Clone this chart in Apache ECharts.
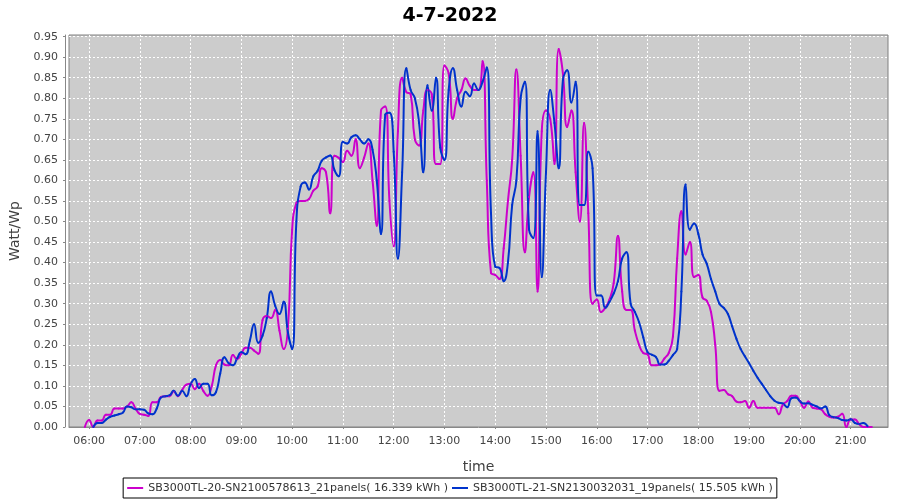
<!DOCTYPE html>
<html><head><meta charset="utf-8">
<script src="https://cdn.jsdelivr.net/npm/echarts@6/dist/echarts.min.js"></script>
<style>html,body{margin:0;padding:0;background:#fff}#c{width:900px;height:500px}</style>
</head><body><div id="c"></div>
<script>
const chartTitle = "4-7-2022";
const xName = "time";
const yName = "Watt/Wp";
const seriesNames = [
  "SB3000TL-20-SN2100578613_21panels( 16.339 kWh )",
  "SB3000TL-21-SN2130032031_19panels( 15.505 kWh )"
];
const seriesColors = ["#cc00cc", "#0033cc"];
// samples every 5 minutes starting at 05:55
const startTime = "05:55";
const stepMinutes = 5;
const magentaValues = [
 0.000,0.017,0.000,0.016,0.016,0.030,0.030,0.045,0.045,0.045,0.050,0.060,0.045,
 0.032,0.030,0.027,0.060,0.060,0.073,0.075,0.075,0.087,0.075,0.090,0.103,
 0.105,0.092,0.105,0.088,0.076,0.100,0.150,0.163,0.152,0.150,0.175,0.165,
 0.178,0.193,0.193,0.186,0.178,0.260,0.270,0.265,0.285,0.235,0.190,0.240,
 0.480,0.545,0.550,0.550,0.555,0.575,0.585,0.630,0.620,0.520,0.660,0.655,
 0.645,0.672,0.660,0.700,0.630,0.655,0.690,0.600,0.490,0.770,0.780,0.550,
 0.440,0.720,0.850,0.815,0.810,0.700,0.685,0.770,0.820,0.810,0.640,0.640,
 0.880,0.860,0.750,0.800,0.820,0.848,0.830,0.820,0.820,0.890,0.600,0.375,
 0.370,0.360,0.435,0.550,0.650,0.870,0.660,0.425,0.560,0.620,0.330,0.720,
 0.770,0.750,0.640,0.920,0.860,0.730,0.770,0.620,0.500,0.740,0.520,0.300,
 0.310,0.280,0.290,0.310,0.350,0.465,0.330,0.285,0.285,0.235,0.200,0.180,
 0.177,0.150,0.150,0.153,0.167,0.180,0.220,0.410,0.525,0.420,0.450,0.365,
 0.370,0.315,0.307,0.280,0.200,0.088,0.090,0.080,0.075,0.062,0.060,0.063,
 0.047,0.063,0.047,0.047,0.047,0.047,0.047,0.031,0.055,0.063,0.076,0.076,
 0.063,0.047,0.062,0.047,0.045,0.043,0.031,0.025,0.023,0.025,0.032,0.000,
 0.018,0.018,0.007,0.000,0.000,0.000
];
const blueValues = [
 null,null,0.000,0.010,0.010,0.018,0.025,0.028,0.031,0.035,0.050,0.048,0.043,
 0.043,0.042,0.033,0.031,0.045,0.072,0.075,0.077,0.088,0.076,0.088,0.075,
 0.104,0.117,0.095,0.105,0.105,0.077,0.085,0.130,0.170,0.155,0.150,0.167,
 0.182,0.177,0.210,0.250,0.205,0.222,0.265,0.330,0.295,0.275,0.305,0.230,
 0.190,0.500,0.585,0.595,0.578,0.610,0.623,0.648,0.656,0.661,0.625,0.610,
 0.694,0.690,0.705,0.710,0.700,0.690,0.700,0.675,0.600,0.470,0.760,0.765,
 0.670,0.410,0.620,0.873,0.820,0.800,0.740,0.620,0.832,0.770,0.850,0.680,
 0.650,0.820,0.873,0.820,0.780,0.816,0.805,0.836,0.820,0.840,0.875,0.520,
 0.390,0.387,0.355,0.400,0.540,0.600,0.800,0.840,0.480,0.460,0.720,0.365,
 0.620,0.820,0.740,0.630,0.845,0.868,0.790,0.840,0.540,0.540,0.670,0.630,
 0.320,0.320,0.290,0.305,0.325,0.355,0.410,0.425,0.300,0.280,0.255,0.218,
 0.182,0.176,0.170,0.152,0.152,0.161,0.175,0.190,0.330,0.590,0.480,0.495,
 0.470,0.420,0.397,0.360,0.330,0.300,0.290,0.275,0.245,0.215,0.190,0.172,
 0.155,0.137,0.120,0.105,0.090,0.075,0.064,0.059,0.057,0.048,0.070,0.072,
 0.063,0.057,0.058,0.054,0.050,0.045,0.050,0.028,0.024,0.022,0.017,0.016,
 0.019,0.010,0.007,0.010,0.002,null
];
const xTickHours = [6,7,8,9,10,11,12,13,14,15,16,17,18,19,20,21];
const yTicks = [0,0.05,0.10,0.15,0.20,0.25,0.30,0.35,0.40,0.45,0.50,0.55,0.60,0.65,0.70,0.75,0.80,0.85,0.90,0.95];
const xMin = 5.605, xMax = 21.736;
const yMin = 0, yMax = 0.954;

function toPairs(values) {
  const [h, m] = startTime.split(':').map(Number);
  const start = h + m / 60;
  return values.map((v, i) => [start + i * stepMinutes / 60, v]);
}
const pad = n => (n < 10 ? '0' : '') + n;

const chart = echarts.init(document.getElementById('c'), null, {renderer: 'canvas'});
const font = 'DejaVu Sans';
chart.setOption({
  animation: false,
  backgroundColor: '#ffffff',
  title: {
    text: chartTitle, left: 'center', top: 2,
    textStyle: {fontFamily: font, fontSize: 19, fontWeight: 'bold', color: '#000'}
  },
  grid: {
    left: 68, right: 12, top: 35, bottom: 73,
    show: true, backgroundColor: '#cccccc', borderColor: '#808080', borderWidth: 1
  },
  legend: {
    left: 'center', top: 478,
    padding: [3, 4], itemGap: 4, itemWidth: 16, itemHeight: 2,
    icon: 'rect',
    borderColor: '#000', borderWidth: 1,
    textStyle: {fontFamily: font, fontSize: 11, color: '#333', lineHeight: 14},
    data: seriesNames
  },
  xAxis: {
    type: 'value', min: xMin, max: xMax, offset: 4,
    name: xName, nameLocation: 'middle', nameGap: 29,
    nameTextStyle: {fontFamily: font, fontSize: 14, color: '#404040'},
    axisLine: {show: true, lineStyle: {color: '#888'}},
    axisTick: {show: true, length: 2, customValues: xTickHours, lineStyle: {color: '#888'}},
    axisLabel: {
      customValues: xTickHours, margin: 5,
      fontFamily: font, fontSize: 11, color: '#444',
      formatter: v => pad(Math.round(v)) + ':00'
    },
    splitLine: {show: true, lineStyle: {color: '#ffffff', type: [2, 2], width: 1}}
  },
  yAxis: {
    type: 'value', min: yMin, max: yMax, offset: 4,
    name: yName, nameLocation: 'middle', nameGap: 43, nameRotate: 90,
    nameTextStyle: {fontFamily: font, fontSize: 14, color: '#404040'},
    axisLine: {show: true, lineStyle: {color: '#888'}},
    axisTick: {show: true, length: 2, customValues: yTicks, lineStyle: {color: '#888'}},
    axisLabel: {
      customValues: yTicks, margin: 7,
      fontFamily: font, fontSize: 11, color: '#444',
      formatter: v => v.toFixed(2)
    },
    splitLine: {show: true, lineStyle: {color: '#ffffff', type: [2, 2], width: 1}}
  },
  series: [magentaValues, blueValues].map((vals, i) => ({
    name: seriesNames[i], type: 'line', data: toPairs(vals),
    smooth: 0.5, connectNulls: false,
    symbol: 'circle', symbolSize: 2, showSymbol: true,
    lineStyle: {width: 2, color: seriesColors[i]},
    itemStyle: {color: seriesColors[i]},
    emphasis: {disabled: true}
  }))
});
</script></body></html>
